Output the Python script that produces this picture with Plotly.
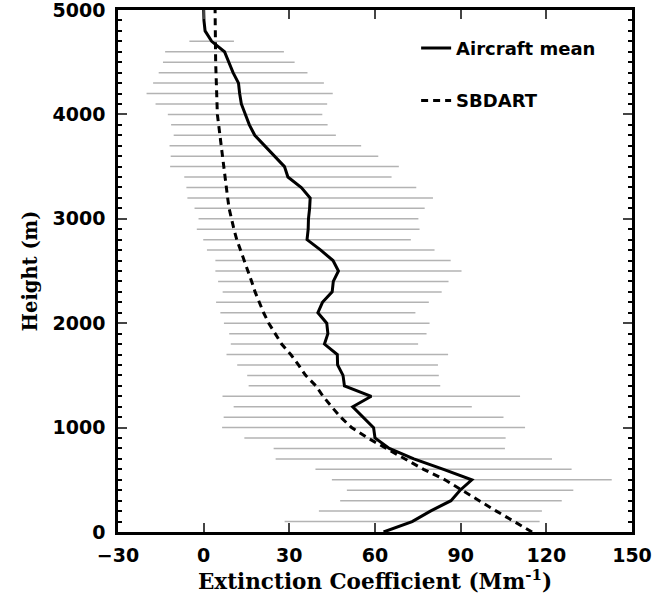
import plotly.graph_objects as go

# ---- data ----
mean_height = [0, 100, 200, 300, 400, 500, 600, 700, 800, 900, 1000, 1100, 1200, 1300, 1400,
               1500, 1600, 1700, 1800, 1900, 2000, 2100, 2200, 2300, 2400, 2500, 2600, 2700,
               2800, 2900, 3000, 3100, 3200, 3300, 3400, 3500, 3600, 3700, 3800, 3900, 4000,
               4100, 4200, 4300, 4400, 4500, 4600, 4700, 4800, 4900, 5000]
mean_ext = [63, 73, 79.4, 86.6, 89.8, 93.9, 84, 73.6, 65, 60, 59.5, 56, 52.2, 58.7, 49.3,
            48.8, 46.9, 46.8, 42.3, 43.5, 43.1, 40, 41.6, 45, 45.4, 47.2, 45.3, 41,
            36.2, 36.6, 36.7, 37.1, 37.3, 34.2, 29.5, 28.3, 24.8, 21.6, 17.9, 16, 14.5,
            13.2, 12.6, 12.2, 10.3, 8.8, 7.3, 2.8, 0.5, 0.1, 0.0]

std_height = list(range(100, 4800, 100))
std_ext = [44.65, 39.05, 38.8, 39.65, 49, 44.85, 48.4, 40.5, 45.75, 53.05, 49, 41.7, 52.1,
           33.55, 33.55, 35.15, 38.8, 32.8, 34.55, 36, 34.15, 37.25, 38.35, 40.35, 43.1,
           41.2, 39.85, 36.35, 39, 38.5, 40.3, 43, 40.25, 36.3, 40.05, 36.35, 33.55, 28.4,
           27.4, 27.05, 30.05, 32.6, 29.9, 26.05, 23.05, 20.8, 7.8]

sbdart_height = [0, 100, 200, 300, 400, 500, 600, 700, 800, 900, 1000, 1100, 1200, 1300,
                 1400, 1500, 1600, 1700, 1800, 1900, 2000, 2100, 2200, 2300, 2400, 2500,
                 2600, 2700, 2800, 2900, 3000, 3100, 3200, 3400, 3600, 3800, 4000, 4500, 5000]
sbdart_ext = [115, 108.5, 102.5, 96.5, 90.5, 84.5, 77, 70.5, 64.5, 57.5, 51.8, 48, 44.8, 41.8,
              39.3, 35.7, 33.2, 30.5, 27.3, 25.1, 22.8, 21, 19.5, 18, 16.8, 15.5,
              14.1, 12.7, 11.6, 10.6, 9.7, 8.9, 8.4, 7.5, 6.8, 5.8, 4.8, 4.2, 4.0]

x_ticks = [-30, 0, 30, 60, 90, 120, 150]
y_ticks = [0, 1000, 2000, 3000, 4000, 5000]

# ---- build ----
mean_lookup = dict(zip(mean_height, mean_ext))
gx, gy = [], []
for h, s in zip(std_height, std_ext):
    m = mean_lookup[h]
    gx += [m - s, m + s, None]
    gy += [h, h, None]

fig = go.Figure()
fig.add_trace(go.Scatter(x=gx, y=gy, mode="lines", line=dict(color="#b3b3b3", width=1.5),
                         showlegend=False, hoverinfo="skip"))
fig.add_trace(go.Scatter(x=sbdart_ext, y=sbdart_height, mode="lines", name="SBDART",
                         line=dict(color="black", width=3, dash="7px,5px"),
                         legendgroup="b", legendrank=2))
fig.add_trace(go.Scatter(x=mean_ext, y=mean_height, mode="lines", name="Aircraft mean",
                         line=dict(color="black", width=3),
                         legendgroup="a", legendrank=1))

tickfont = dict(family="DejaVu Sans", size=19, color="black", weight="bold")

fig.update_layout(
    width=664, height=600,
    margin=dict(l=118, r=32, t=10, b=68),
    paper_bgcolor="white", plot_bgcolor="white",
    legend=dict(x=0.58, y=0.962, xanchor="left", yanchor="top",
                bgcolor="rgba(0,0,0,0)", tracegroupgap=26,
                font=dict(family="DejaVu Sans", size=18, color="black", weight="bold")),
    xaxis=dict(range=[-30, 150], tickvals=x_ticks, ticks="inside", ticklen=9, tickwidth=2,
               showline=True, linewidth=2.5, linecolor="black", mirror="allticks",
               showgrid=False, zeroline=False, tickfont=tickfont, ticklabelstandoff=4,
               automargin=False, ticklabeloverflow="allow",
               title=dict(text="Extinction Coefficient (Mm<sup>-1</sup>)",
                          font=dict(family="DejaVu Serif", size=21.5, color="black", weight="bold"),
                          standoff=8)),
    yaxis=dict(range=[0, 5000], tickvals=y_ticks, ticks="inside", ticklen=9, tickwidth=2,
               showline=True, linewidth=2.5, linecolor="black", mirror="allticks",
               showgrid=False, zeroline=False, tickfont=tickfont, ticklabelstandoff=6,
               automargin=False, ticklabeloverflow="allow",
               minor=dict(dtick=100, tick0=0, ticks="inside", ticklen=4, tickwidth=1.5,
                          tickcolor="black", showgrid=False),
               title=dict(text="Height (m)",
                          font=dict(family="DejaVu Serif", size=19.5, color="black", weight="bold"),
                          standoff=10)),
)

fig.write_html("out.html")
